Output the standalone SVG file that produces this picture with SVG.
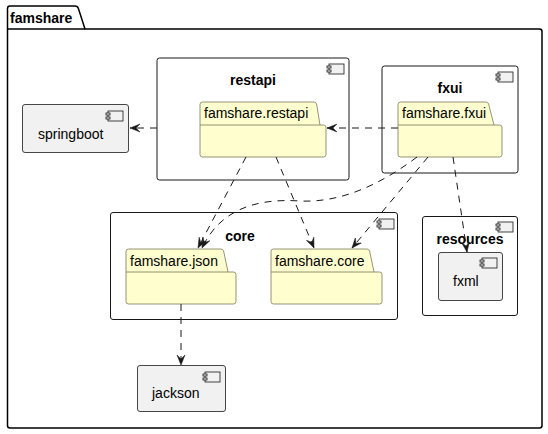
<svg xmlns="http://www.w3.org/2000/svg" width="548" height="434" viewBox="0 0 548 434">
<style>
text{font-family:"Liberation Sans",Arial,sans-serif;font-size:14px;fill:#000}
.b{font-weight:bold}
.comp{fill:#F1F1F1;stroke:#181818;stroke-width:0.8}
.cont{fill:none;stroke:#181818;stroke-width:1}
.pkg{fill:#FEFECE;stroke:#7A7A5A;stroke-width:0.8}
.edge{fill:none;stroke:#181818;stroke-width:1;stroke-dasharray:7,6}
</style>
<defs>
<marker id="arr" markerUnits="userSpaceOnUse" markerWidth="12" markerHeight="12" refX="10" refY="5" orient="auto">
<path d="M0,1 L10,5 L0,9 L4,5 Z" fill="#181818" stroke="#181818" stroke-width="0.5"/>
</marker>
<g id="icon" fill="#F1F1F1" stroke="#181818" stroke-width="0.8">
<rect x="2" y="0" width="15" height="10"/>
<rect x="0" y="2" width="4" height="2"/>
<rect x="0" y="6" width="4" height="2"/>
</g>
</defs>

<g id="famshare">
<path d="M7.5,8.5 Q7.5,6 10,6 L75,6 Q77.5,6 78.3,8.3 L85,29 L539.5,29 Q542,29 542,31.5 L542,425.5 Q542,428 539.5,428 L10,428 Q7.5,428 7.5,425.5 Z" fill="none" stroke="#000" stroke-width="1.5"/>
<line x1="7.5" y1="29" x2="85" y2="29" stroke="#000" stroke-width="1.5"/>
<text class="b" x="10" y="23">famshare</text>
</g>

<g id="restapi">
<rect class="cont" x="157" y="58" width="192" height="122" rx="2.5"/>
<use href="#icon" x="327" y="64"/>
<text class="b" x="253" y="85" text-anchor="middle">restapi</text>
</g>
<g id="famshare.restapi">
<path class="pkg" d="M200,104.5 Q200,102 202.5,102 L314,102 Q316,102 316.6,104 L320,125 L323.5,125 Q326,125 326,127.5 L326,154.5 Q326,157 323.5,157 L202.5,157 Q200,157 200,154.5 Z"/>
<line x1="200" y1="125" x2="320" y2="125" stroke="#7A7A5A" stroke-width="0.8"/>
<text x="204" y="118">famshare.restapi</text>
</g>

<g id="fxui">
<rect class="cont" x="382" y="66" width="136" height="107" rx="2.5"/>
<use href="#icon" x="496" y="72"/>
<text class="b" x="450" y="93" text-anchor="middle">fxui</text>
</g>
<g id="famshare.fxui">
<path class="pkg" d="M398,104.5 Q398,102 400.5,102 L486,102 Q488,102 488.6,104 L494,125 L499.5,125 Q502,125 502,127.5 L502,154.5 Q502,157 499.5,157 L400.5,157 Q398,157 398,154.5 Z"/>
<line x1="398" y1="125" x2="494" y2="125" stroke="#7A7A5A" stroke-width="0.8"/>
<text x="402" y="118">famshare.fxui</text>
</g>

<g id="springboot">
<rect class="comp" x="22.5" y="104.5" width="106" height="48" rx="2.5"/>
<use href="#icon" x="106" y="111"/>
<text x="38" y="139">springboot</text>
</g>

<g id="core">
<rect class="cont" x="110.5" y="212.5" width="287" height="107" rx="2.5"/>
<use href="#icon" x="377" y="219"/>
<text class="b" x="240" y="241" text-anchor="middle">core</text>
</g>
<g id="famshare.json">
<path class="pkg" d="M126,251.5 Q126,249 128.5,249 L221,249 Q223,249 223.6,251 L228,272 L233.5,272 Q236,272 236,274.5 L236,301.5 Q236,304 233.5,304 L128.5,304 Q126,304 126,301.5 Z"/>
<line x1="126" y1="272" x2="228" y2="272" stroke="#7A7A5A" stroke-width="0.8"/>
<text x="130" y="266">famshare.json</text>
</g>
<g id="famshare.core">
<path class="pkg" d="M271,251.5 Q271,249 273.5,249 L367,249 Q369,249 369.6,251 L374,272 L379.5,272 Q382,272 382,274.5 L382,301.5 Q382,304 379.5,304 L273.5,304 Q271,304 271,301.5 Z"/>
<line x1="271" y1="272" x2="374" y2="272" stroke="#7A7A5A" stroke-width="0.8"/>
<text x="275" y="266">famshare.core</text>
</g>

<g id="resources">
<rect class="cont" x="422.5" y="216.5" width="95" height="99" rx="2.5"/>
<use href="#icon" x="496" y="222"/>
<text class="b" x="470" y="244" text-anchor="middle">resources</text>
</g>
<g id="fxml">
<rect class="comp" x="438.5" y="252.5" width="64" height="48" rx="2.5"/>
<use href="#icon" x="480" y="258"/>
<text x="453" y="286">fxml</text>
</g>

<g id="jackson">
<rect class="comp" x="137.5" y="365.5" width="88" height="46" rx="2.5"/>
<use href="#icon" x="203" y="372"/>
<text x="152" y="398">jackson</text>
</g>

<g id="connectors">
<path class="edge" d="M398,128 L327,128" marker-end="url(#arr)"/>
<path class="edge" d="M157,128 L130,128" marker-end="url(#arr)"/>
<path class="edge" d="M246,157 L198,248" marker-end="url(#arr)"/>
<path class="edge" d="M276,157 L314,248" marker-end="url(#arr)"/>
<path class="edge" d="M417,157 C380,185 340,203 300,201 C255,198 220,210 202,248" marker-end="url(#arr)"/>
<path class="edge" d="M428,157 L352,248" marker-end="url(#arr)"/>
<path class="edge" d="M453,157 L467,252" marker-end="url(#arr)"/>
<path class="edge" d="M181,304 L181,365" marker-end="url(#arr)"/>
</g>
</svg>
